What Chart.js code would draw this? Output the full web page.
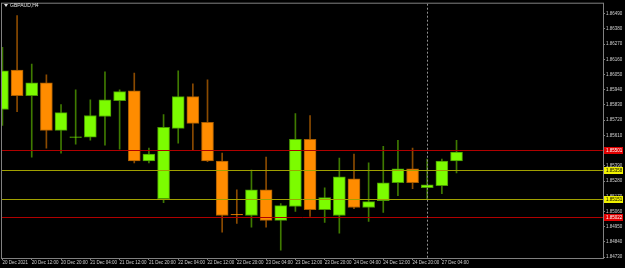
<!DOCTYPE html>
<html>
<head>
<meta charset="utf-8">
<script src="https://cdn.jsdelivr.net/npm/chart.js@4.4.1/dist/chart.umd.min.js"></script>
<style>
  html, body { margin: 0; padding: 0; background: #000; }
  canvas { display: block; }
</style>
</head>
<body>
<canvas id="chart" width="625" height="268"></canvas>
<script>
const symbolTitle = 'GBPAUD,H4'

// H4 candles, left to right
const candleOpen = [1.85797, 1.86083, 1.85897, 1.85990, 1.85647, 1.85595, 1.85597, 1.85747,
  1.85861, 1.85933, 1.85425, 1.85153, 1.85661, 1.85890, 1.85704, 1.85425,
  1.85039, 1.85031, 1.85217, 1.84996, 1.85096, 1.85582, 1.85074, 1.85031,
  1.85296, 1.85089, 1.85139, 1.85268, 1.85368, 1.85232, 1.85246, 1.85425]
const candleHigh = [1.86247, 1.86476, 1.86126, 1.86047, 1.85833, 1.85940, 1.85868, 1.86069,
  1.85940, 1.86061, 1.85518, 1.85761, 1.86076, 1.85983, 1.86011, 1.85482,
  1.85217, 1.85360, 1.85453, 1.85117, 1.85768, 1.85754, 1.85232, 1.85446,
  1.85475, 1.85411, 1.85532, 1.85575, 1.85518, 1.85439, 1.85439, 1.85575]
const candleLow = [1.85682, 1.85782, 1.85453, 1.85518, 1.85482, 1.85546, 1.85575, 1.85539,
  1.85511, 1.85411, 1.85411, 1.85124, 1.85554, 1.85504, 1.85420, 1.84910,
  1.84974, 1.84946, 1.84946, 1.84781, 1.85060, 1.85024, 1.84982, 1.84903,
  1.85081, 1.84989, 1.85053, 1.85174, 1.85225, 1.85146, 1.85189, 1.85339]
const candleClose = [1.86076, 1.85897, 1.85990, 1.85647, 1.85775, 1.85600, 1.85754, 1.85868,
  1.85926, 1.85425, 1.85475, 1.85668, 1.85890, 1.85697, 1.85425, 1.85031,
  1.85035, 1.85217, 1.84996, 1.85103, 1.85582, 1.85074, 1.85160, 1.85310,
  1.85089, 1.85132, 1.85268, 1.85368, 1.85268, 1.85253, 1.85425, 1.85489]

// one label every second candle
const timeLabels = ['20 Dec 2021', '20 Dec 12:00', '20 Dec 20:00', '21 Dec 04:00', '21 Dec 12:00',
  '21 Dec 20:00', '22 Dec 04:00', '22 Dec 12:00', '22 Dec 20:00', '23 Dec 04:00', '23 Dec 12:00',
  '23 Dec 20:00', '24 Dec 04:00', '24 Dec 12:00', '24 Dec 20:00', '27 Dec 04:00']
const priceTicks = [1.84730, 1.84840, 1.84950, 1.85060, 1.85170, 1.85280, 1.85390, 1.85500,
  1.85610, 1.85720, 1.85830, 1.85940, 1.86050, 1.86160, 1.86270, 1.86380, 1.86490]

const redLevels = [1.85501, 1.85022]
const yellowLevels = [1.85358, 1.85151]
const separatorIndex = 29

const GREEN = '#7cfc00'
const ORANGE = '#ff8c00'
const isBull = i => candleClose[i] >= candleOpen[i]

const bodies = candleOpen.map((o, i) => ({ x: i, y: [o, candleClose[i]] }))
const wicks = candleLow.map((l, i) => ({ x: i, y: [l, candleHigh[i]] }))

const overlay = {
  id: 'overlay',
  beforeDraw(chart) {
    const ctx = chart.ctx
    ctx.save()
    ctx.fillStyle = '#000'
    ctx.fillRect(0, 0, chart.width, chart.height)
    ctx.restore()
  },
  afterDatasetsDraw(chart) {
    const { ctx, chartArea: a, scales: { x, y } } = chart
    ctx.save()
    ctx.lineWidth = 1
    const hline = (v, color) => {
      const py = Math.round(y.getPixelForValue(v)) + 0.5
      ctx.strokeStyle = color
      ctx.beginPath()
      ctx.moveTo(a.left, py)
      ctx.lineTo(a.right, py)
      ctx.stroke()
    }
    redLevels.forEach(v => hline(v, '#b00000'))
    yellowLevels.forEach(v => hline(v, '#a0a000'))

    // period separator
    const sx = Math.round(x.getPixelForValue(separatorIndex)) + 0.5
    ctx.strokeStyle = '#909090'
    ctx.setLineDash([2, 2])
    ctx.beginPath()
    ctx.moveTo(sx, a.top)
    ctx.lineTo(sx, a.bottom)
    ctx.stroke()
    ctx.setLineDash([])
    ctx.restore()
  },
  afterDraw(chart) {
    const { ctx, chartArea: a, scales: { y } } = chart
    ctx.save()
    // frame
    ctx.strokeStyle = '#808080'
    ctx.lineWidth = 1
    ctx.strokeRect(a.left - 0.5, a.top - 0.5, a.right - a.left + 1, a.bottom - a.top + 1)

    // title
    ctx.fillStyle = '#e0e0e0'
    ctx.beginPath()
    ctx.moveTo(4, 4)
    ctx.lineTo(8, 4)
    ctx.lineTo(6, 7)
    ctx.closePath()
    ctx.fill()
    ctx.font = '5px "Liberation Sans"'
    ctx.textBaseline = 'middle'
    ctx.fillText(symbolTitle, 10, 5.5)

    // price tags
    const tag = (v, bg, fg) => {
      const py = Math.round(y.getPixelForValue(v))
      ctx.fillStyle = bg
      ctx.fillRect(a.right + 1, py - 3, 19, 7)
      ctx.fillStyle = fg
      ctx.font = '4.5px "Liberation Sans"'
      ctx.textBaseline = 'middle'
      ctx.fillText(v.toFixed(5), a.right + 3, py + 0.5)
    }
    redLevels.forEach(v => tag(v, '#e00000', '#ffffff'))
    yellowLevels.forEach(v => tag(v, '#f0f000', '#000000'))
    ctx.restore()
  }
}

new Chart(document.getElementById('chart'), {
  type: 'bar',
  data: {
    datasets: [
      {
        data: bodies,
        grouped: false,
        barThickness: 12,
        borderWidth: 1,
        borderSkipped: false,
        backgroundColor: c => isBull(c.dataIndex) ? GREEN : ORANGE,
        borderColor: c => isBull(c.dataIndex) ? '#4a9a00' : '#a85c00',
      },
      {
        data: wicks,
        grouped: false,
        barThickness: 1,
        borderWidth: 0,
        backgroundColor: c => isBull(c.dataIndex) ? '#3f7a00' : '#8a4a00',
      },
    ],
  },
  plugins: [overlay],
  options: {
    responsive: false,
    animation: false,
    devicePixelRatio: 1,
    layout: { padding: { left: 2, top: 1, right: 0, bottom: 0 } },
    plugins: { legend: { display: false }, tooltip: { enabled: false } },
    scales: {
      x: {
        type: 'linear',
        offset: false,
        min: -0.03,
        max: 41,
        afterBuildTicks: s => { s.ticks = timeLabels.map((_, i) => ({ value: i * 2 })) },
        afterFit: s => { s.height = 10 },
        grid: { drawOnChartArea: false, drawTicks: true, tickLength: 2, color: '#808080', offset: false },
        border: { display: true, color: '#808080' },
        ticks: {
          autoSkip: false,
          maxRotation: 0,
          align: 'start',
          padding: 0,
          color: '#d0d0d0',
          font: { family: 'Liberation Sans', size: 4.5 },
          callback: v => timeLabels[v / 2],
        },
      },
      y: {
        position: 'right',
        min: 1.84724,
        max: 1.86562,
        afterBuildTicks: s => { s.ticks = priceTicks.map(v => ({ value: v })) },
        afterFit: s => { s.width = 22 },
        grid: { drawOnChartArea: false, drawTicks: true, tickLength: 2, color: '#808080' },
        border: { display: true, color: '#808080' },
        ticks: {
          padding: 1,
          color: '#d0d0d0',
          font: { family: 'Liberation Sans', size: 4.5 },
          callback: v => v.toFixed(5),
        },
      },
    },
  },
})
</script>
</body>
</html>
